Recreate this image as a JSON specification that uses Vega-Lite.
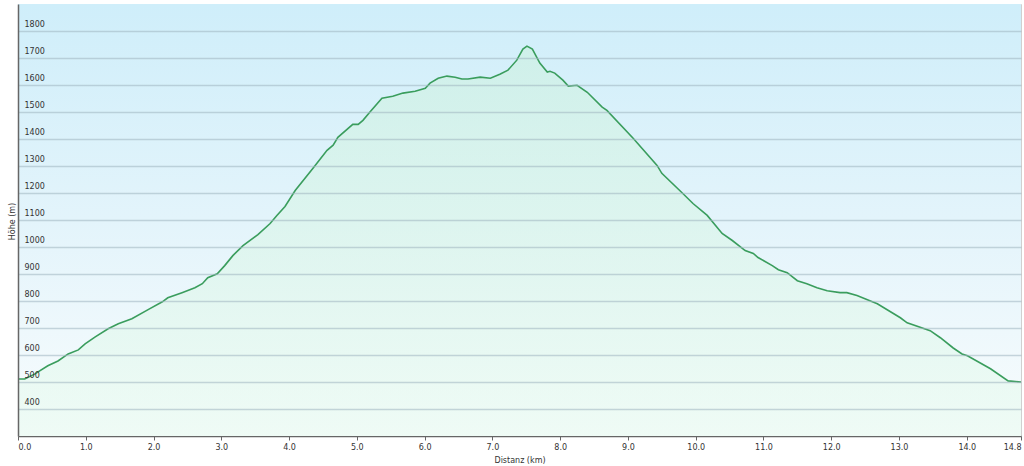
{
  "$schema": "https://vega.github.io/schema/vega-lite/v6.json",
  "autosize": {"type": "none"},
  "padding": {"left": 18, "top": 4, "right": 3, "bottom": 30},
  "width": 1003,
  "height": 432,
  "background": "#ffffff",
  "config": {
    "view": {"stroke": "#d0d0d0", "strokeWidth": 1},
    "font": "DejaVu Sans"
  },
  "datasets": {
    "profile": [
      {"km": 0.00, "elev": 511}, {"km": 0.10, "elev": 511}, {"km": 0.25, "elev": 530},
      {"km": 0.44, "elev": 560}, {"km": 0.59, "elev": 578}, {"km": 0.74, "elev": 604},
      {"km": 0.89, "elev": 619}, {"km": 0.99, "elev": 641}, {"km": 1.14, "elev": 667},
      {"km": 1.33, "elev": 697}, {"km": 1.48, "elev": 716}, {"km": 1.68, "elev": 734},
      {"km": 1.92, "elev": 768}, {"km": 2.13, "elev": 797}, {"km": 2.21, "elev": 812},
      {"km": 2.42, "elev": 831}, {"km": 2.61, "elev": 849}, {"km": 2.72, "elev": 864},
      {"km": 2.80, "elev": 886}, {"km": 2.94, "elev": 901}, {"km": 3.05, "elev": 931},
      {"km": 3.17, "elev": 968}, {"km": 3.32, "elev": 1005}, {"km": 3.54, "elev": 1046},
      {"km": 3.72, "elev": 1087}, {"km": 3.82, "elev": 1117}, {"km": 3.94, "elev": 1150},
      {"km": 4.09, "elev": 1209}, {"km": 4.35, "elev": 1291}, {"km": 4.56, "elev": 1358},
      {"km": 4.65, "elev": 1377}, {"km": 4.72, "elev": 1406}, {"km": 4.94, "elev": 1454},
      {"km": 5.02, "elev": 1454}, {"km": 5.09, "elev": 1469}, {"km": 5.19, "elev": 1499},
      {"km": 5.37, "elev": 1551}, {"km": 5.53, "elev": 1558}, {"km": 5.68, "elev": 1570},
      {"km": 5.86, "elev": 1577}, {"km": 6.01, "elev": 1588}, {"km": 6.08, "elev": 1607},
      {"km": 6.20, "elev": 1625}, {"km": 6.33, "elev": 1633}, {"km": 6.45, "elev": 1629},
      {"km": 6.55, "elev": 1622}, {"km": 6.64, "elev": 1622}, {"km": 6.82, "elev": 1629},
      {"km": 6.97, "elev": 1625}, {"km": 7.11, "elev": 1640}, {"km": 7.23, "elev": 1655},
      {"km": 7.36, "elev": 1692}, {"km": 7.45, "elev": 1733}, {"km": 7.51, "elev": 1744},
      {"km": 7.59, "elev": 1733}, {"km": 7.70, "elev": 1681}, {"km": 7.81, "elev": 1648},
      {"km": 7.85, "elev": 1651}, {"km": 7.92, "elev": 1644}, {"km": 8.04, "elev": 1618},
      {"km": 8.12, "elev": 1596}, {"km": 8.25, "elev": 1599}, {"km": 8.40, "elev": 1573},
      {"km": 8.62, "elev": 1518}, {"km": 8.69, "elev": 1506}, {"km": 9.08, "elev": 1402},
      {"km": 9.43, "elev": 1302}, {"km": 9.50, "elev": 1273}, {"km": 9.81, "elev": 1198},
      {"km": 9.96, "elev": 1161}, {"km": 10.17, "elev": 1117}, {"km": 10.39, "elev": 1050},
      {"km": 10.54, "elev": 1024}, {"km": 10.73, "elev": 987}, {"km": 10.85, "elev": 976},
      {"km": 10.92, "elev": 961}, {"km": 11.13, "elev": 931}, {"km": 11.22, "elev": 916},
      {"km": 11.35, "elev": 905}, {"km": 11.50, "elev": 875}, {"km": 11.64, "elev": 864},
      {"km": 11.79, "elev": 849}, {"km": 11.94, "elev": 838}, {"km": 12.13, "elev": 831},
      {"km": 12.23, "elev": 831}, {"km": 12.38, "elev": 820}, {"km": 12.57, "elev": 801},
      {"km": 12.68, "elev": 790}, {"km": 13.02, "elev": 738}, {"km": 13.12, "elev": 719},
      {"km": 13.46, "elev": 690}, {"km": 13.61, "elev": 664}, {"km": 13.80, "elev": 626},
      {"km": 13.93, "elev": 604}, {"km": 14.01, "elev": 597}, {"km": 14.35, "elev": 549},
      {"km": 14.61, "elev": 504}, {"km": 14.80, "elev": 500}
    ]
  },
  "layer": [
    {
      "data": {"values": [{"kind": "background"}]},
      "mark": {
        "type": "rect",
        "color": {
          "gradient": "linear",
          "x1": 0, "y1": 0, "x2": 0, "y2": 1,
          "stops": [
            {"offset": 0, "color": "#cfeefa"},
            {"offset": 0.5, "color": "#e3f4fb"},
            {"offset": 1, "color": "#f8fcfd"}
          ]
        }
      },
      "encoding": {
        "x": {"datum": 0, "type": "quantitative", "scale": {"domain": [0, 14.8], "nice": false, "zero": false}},
        "x2": {"datum": 14.8},
        "y": {"datum": 300, "type": "quantitative", "scale": {"domain": [300, 1900], "nice": false, "zero": false}},
        "y2": {"datum": 1900}
      }
    },
    {
      "data": {"name": "profile"},
      "mark": {
        "type": "area",
        "clip": true,
        "color": {
          "gradient": "linear",
          "x1": 0, "y1": 0, "x2": 0, "y2": 1,
          "stops": [
            {"offset": 0, "color": "#cdf0e3"},
            {"offset": 1, "color": "#ebfbf2"}
          ]
        },
        "line": {"color": "#3a9d5d", "strokeWidth": 1.6}
      },
      "encoding": {
        "x": {
          "field": "km",
          "type": "quantitative",
          "scale": {"domain": [0, 14.8], "nice": false, "zero": false},
          "axis": {
            "values": [0, 1, 2, 3, 4, 5, 6, 7, 8, 9, 10, 11, 12, 13, 14, 14.8],
            "tickCount": 30,
            "format": ".1f",
            "grid": false,
            "domainColor": "#666666",
            "domainWidth": 1.5,
            "tickColor": "#666666",
            "tickSize": 4,
            "labelFont": "DejaVu Sans",
            "labelFontSize": 8,
            "labelColor": "#333333",
            "labelPadding": 3,
            "labelOverlap": false,
            "title": "Distanz  (km)",
            "titleFont": "DejaVu Sans",
            "titleFontSize": 8,
            "titleFontWeight": "normal",
            "titleColor": "#333333",
            "titleBaseline": "middle",
            "titleY": 24
          }
        },
        "y": {
          "field": "elev",
          "type": "quantitative",
          "scale": {"domain": [300, 1900], "nice": false, "zero": false},
          "axis": {
            "values": [400, 500, 600, 700, 800, 900, 1000, 1100, 1200, 1300, 1400, 1500, 1600, 1700, 1800],
            "tickCount": 30,
            "format": "d",
            "zindex": 1,
            "grid": true,
            "gridColor": "#9fb4bf",
            "gridOpacity": 0.55,
            "gridWidth": 1.5,
            "ticks": false,
            "tickSize": 0,
            "domainColor": "#666666",
            "domainWidth": 1.5,
            "labelFont": "DejaVu Sans",
            "labelFontSize": 8,
            "labelColor": "#333333",
            "labelAlign": "left",
            "labelBaseline": "bottom",
            "labelPadding": -6,
            "labelOffset": -3,
            "labelFlush": false,
            "labelOverlap": false,
            "title": "Höhe (m)",
            "titleFont": "DejaVu Sans",
            "titleFontSize": 8,
            "titleFontWeight": "normal",
            "titleColor": "#333333",
            "titleBaseline": "middle",
            "titleAngle": 270,
            "titleX": -6,
            "titleY": 217
          }
        },
        "y2": {"datum": 300}
      }
    }
  ]
}
